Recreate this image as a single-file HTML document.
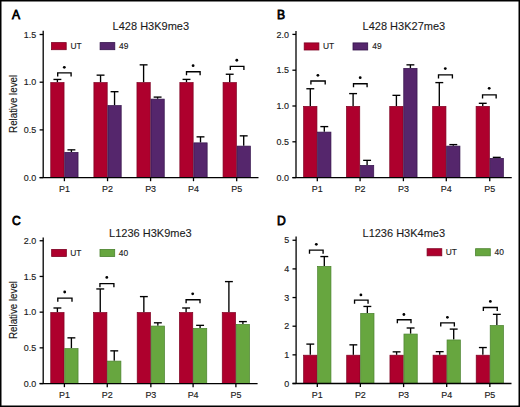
<!DOCTYPE html>
<html><head><meta charset="utf-8"><style>
html,body{margin:0;padding:0;background:#fff;}
body{width:520px;height:407px;overflow:hidden;}
svg{display:block;}
text{font-family:"Liberation Sans", sans-serif;fill:#1a1a1a;stroke:#1a1a1a;stroke-width:0.15px;}
.tk{font-size:9.6px;}
.lg{font-size:9.9px;}
.tit{font-size:11px;stroke-width:0.1px;}
.yl{font-size:10.5px;}
.let{font-size:13.2px;fill:#000;stroke:#000;stroke-width:0.8px;}
.ax{stroke:#000;stroke-width:1.3;fill:none;}
.eb{stroke:#000;stroke-width:1.35;fill:none;}
.br{stroke:#000;stroke-width:1.35;fill:none;}
</style></head><body>
<svg width="520" height="407" viewBox="0 0 520 407">
<rect x="0.75" y="0.75" width="518.5" height="405.5" fill="#fff" stroke="#000" stroke-width="1.5"/>
<text transform="translate(12 18.9) scale(0.92 1)" class="let">A</text>
<text x="150.85" y="30.1" class="tit" text-anchor="middle">L428 H3K9me3</text>
<line x1="57.40" y1="82.20" x2="57.40" y2="79.45" class="eb"/>
<line x1="53.45" y1="79.45" x2="61.35" y2="79.45" class="eb"/>
<rect x="50.75" y="82.55" width="13.30" height="95.05" fill="#ae002d" stroke="#7e0022" stroke-width="0.7"/>
<line x1="71.40" y1="152.00" x2="71.40" y2="149.85" class="eb"/>
<line x1="67.45" y1="149.85" x2="75.35" y2="149.85" class="eb"/>
<rect x="64.75" y="152.35" width="13.30" height="25.25" fill="#55266c" stroke="#33124a" stroke-width="0.7"/>
<line x1="64.40" y1="177.6" x2="64.40" y2="181.2" class="ax"/>
<text transform="translate(64.40 191.90) scale(0.93 1)" class="tk" text-anchor="middle">P1</text>
<line x1="100.55" y1="82.20" x2="100.55" y2="75.15" class="eb"/>
<line x1="96.60" y1="75.15" x2="104.50" y2="75.15" class="eb"/>
<rect x="93.90" y="82.55" width="13.30" height="95.05" fill="#ae002d" stroke="#7e0022" stroke-width="0.7"/>
<line x1="114.55" y1="105.20" x2="114.55" y2="91.70" class="eb"/>
<line x1="110.60" y1="91.70" x2="118.50" y2="91.70" class="eb"/>
<rect x="107.90" y="105.55" width="13.30" height="72.05" fill="#55266c" stroke="#33124a" stroke-width="0.7"/>
<line x1="107.55" y1="177.6" x2="107.55" y2="181.2" class="ax"/>
<text transform="translate(107.55 191.90) scale(0.93 1)" class="tk" text-anchor="middle">P2</text>
<line x1="143.60" y1="82.20" x2="143.60" y2="64.85" class="eb"/>
<line x1="139.65" y1="64.85" x2="147.55" y2="64.85" class="eb"/>
<rect x="136.95" y="82.55" width="13.30" height="95.05" fill="#ae002d" stroke="#7e0022" stroke-width="0.7"/>
<line x1="157.60" y1="98.75" x2="157.60" y2="97.10" class="eb"/>
<line x1="153.65" y1="97.10" x2="161.55" y2="97.10" class="eb"/>
<rect x="150.95" y="99.10" width="13.30" height="78.50" fill="#55266c" stroke="#33124a" stroke-width="0.7"/>
<line x1="150.60" y1="177.6" x2="150.60" y2="181.2" class="ax"/>
<text transform="translate(150.60 191.90) scale(0.93 1)" class="tk" text-anchor="middle">P3</text>
<line x1="186.50" y1="82.20" x2="186.50" y2="79.40" class="eb"/>
<line x1="182.55" y1="79.40" x2="190.45" y2="79.40" class="eb"/>
<rect x="179.85" y="82.55" width="13.30" height="95.05" fill="#ae002d" stroke="#7e0022" stroke-width="0.7"/>
<line x1="200.50" y1="142.50" x2="200.50" y2="136.85" class="eb"/>
<line x1="196.55" y1="136.85" x2="204.45" y2="136.85" class="eb"/>
<rect x="193.85" y="142.85" width="13.30" height="34.75" fill="#55266c" stroke="#33124a" stroke-width="0.7"/>
<line x1="193.50" y1="177.6" x2="193.50" y2="181.2" class="ax"/>
<text transform="translate(193.50 191.90) scale(0.93 1)" class="tk" text-anchor="middle">P4</text>
<line x1="229.70" y1="82.20" x2="229.70" y2="74.25" class="eb"/>
<line x1="225.75" y1="74.25" x2="233.65" y2="74.25" class="eb"/>
<rect x="223.05" y="82.55" width="13.30" height="95.05" fill="#ae002d" stroke="#7e0022" stroke-width="0.7"/>
<line x1="243.70" y1="145.75" x2="243.70" y2="135.85" class="eb"/>
<line x1="239.75" y1="135.85" x2="247.65" y2="135.85" class="eb"/>
<rect x="237.05" y="146.10" width="13.30" height="31.50" fill="#55266c" stroke="#33124a" stroke-width="0.7"/>
<line x1="236.70" y1="177.6" x2="236.70" y2="181.2" class="ax"/>
<text transform="translate(236.70 191.90) scale(0.93 1)" class="tk" text-anchor="middle">P5</text>
<path d="M57.70 76.50V72.90H71.10V76.50" class="br"/>
<circle cx="64.30" cy="67.30" r="1.4" fill="#000"/>
<path d="M186.50 75.35V71.75H200.10V75.35" class="br"/>
<circle cx="193.10" cy="65.70" r="1.4" fill="#000"/>
<path d="M230.30 70.00V66.40H243.90V70.00" class="br"/>
<circle cx="236.80" cy="60.25" r="1.4" fill="#000"/>
<line x1="43.2" y1="30.8" x2="43.2" y2="177.6" class="ax"/>
<line x1="39.60" y1="177.6" x2="258.5" y2="177.6" class="ax"/>
<line x1="39.60" y1="177.60" x2="43.2" y2="177.60" class="ax"/>
<text transform="translate(36.20 180.75) scale(0.93 1)" class="tk" text-anchor="end">0.0</text>
<line x1="39.60" y1="129.90" x2="43.2" y2="129.90" class="ax"/>
<text transform="translate(36.20 133.05) scale(0.93 1)" class="tk" text-anchor="end">0.5</text>
<line x1="39.60" y1="82.20" x2="43.2" y2="82.20" class="ax"/>
<text transform="translate(36.20 85.35) scale(0.93 1)" class="tk" text-anchor="end">1.0</text>
<line x1="39.60" y1="34.50" x2="43.2" y2="34.50" class="ax"/>
<text transform="translate(36.20 37.65) scale(0.93 1)" class="tk" text-anchor="end">1.5</text>
<rect x="51.50" y="42.60" width="14.7" height="7.1" fill="#ae002d" stroke="#7e0022" stroke-width="0.8"/>
<text transform="translate(70.50 48.90) scale(0.85 1)" class="lg">UT</text>
<rect x="100.10" y="42.60" width="14.7" height="7.1" fill="#55266c" stroke="#33124a" stroke-width="0.8"/>
<text transform="translate(119.00 48.90) scale(0.85 1)" class="lg">49</text>
<text transform="translate(17.1 103.9) rotate(-90) scale(0.93 1)" class="yl" text-anchor="middle">Relative level</text>
<text transform="translate(277 18.8) scale(0.92 1)" class="let">B</text>
<text x="403.88" y="30.1" class="tit" text-anchor="middle">L428 H3K27me3</text>
<line x1="310.30" y1="106.00" x2="310.30" y2="88.75" class="eb"/>
<line x1="306.35" y1="88.75" x2="314.25" y2="88.75" class="eb"/>
<rect x="303.65" y="106.35" width="13.30" height="71.25" fill="#ae002d" stroke="#7e0022" stroke-width="0.7"/>
<line x1="324.30" y1="131.75" x2="324.30" y2="126.60" class="eb"/>
<line x1="320.35" y1="126.60" x2="328.25" y2="126.60" class="eb"/>
<rect x="317.65" y="132.10" width="13.30" height="45.50" fill="#55266c" stroke="#33124a" stroke-width="0.7"/>
<line x1="317.30" y1="177.6" x2="317.30" y2="181.2" class="ax"/>
<text transform="translate(317.30 191.90) scale(0.93 1)" class="tk" text-anchor="middle">P1</text>
<line x1="353.10" y1="106.00" x2="353.10" y2="93.60" class="eb"/>
<line x1="349.15" y1="93.60" x2="357.05" y2="93.60" class="eb"/>
<rect x="346.45" y="106.35" width="13.30" height="71.25" fill="#ae002d" stroke="#7e0022" stroke-width="0.7"/>
<line x1="367.10" y1="165.00" x2="367.10" y2="160.35" class="eb"/>
<line x1="363.15" y1="160.35" x2="371.05" y2="160.35" class="eb"/>
<rect x="360.45" y="165.35" width="13.30" height="12.25" fill="#55266c" stroke="#33124a" stroke-width="0.7"/>
<line x1="360.10" y1="177.6" x2="360.10" y2="181.2" class="ax"/>
<text transform="translate(360.10 191.90) scale(0.93 1)" class="tk" text-anchor="middle">P2</text>
<line x1="396.40" y1="106.00" x2="396.40" y2="95.35" class="eb"/>
<line x1="392.45" y1="95.35" x2="400.35" y2="95.35" class="eb"/>
<rect x="389.75" y="106.35" width="13.30" height="71.25" fill="#ae002d" stroke="#7e0022" stroke-width="0.7"/>
<line x1="410.40" y1="68.00" x2="410.40" y2="64.85" class="eb"/>
<line x1="406.45" y1="64.85" x2="414.35" y2="64.85" class="eb"/>
<rect x="403.75" y="68.35" width="13.30" height="109.25" fill="#55266c" stroke="#33124a" stroke-width="0.7"/>
<line x1="403.40" y1="177.6" x2="403.40" y2="181.2" class="ax"/>
<text transform="translate(403.40 191.90) scale(0.93 1)" class="tk" text-anchor="middle">P3</text>
<line x1="439.30" y1="106.00" x2="439.30" y2="82.60" class="eb"/>
<line x1="435.35" y1="82.60" x2="443.25" y2="82.60" class="eb"/>
<rect x="432.65" y="106.35" width="13.30" height="71.25" fill="#ae002d" stroke="#7e0022" stroke-width="0.7"/>
<line x1="453.30" y1="145.75" x2="453.30" y2="144.60" class="eb"/>
<line x1="449.35" y1="144.60" x2="457.25" y2="144.60" class="eb"/>
<rect x="446.65" y="146.10" width="13.30" height="31.50" fill="#55266c" stroke="#33124a" stroke-width="0.7"/>
<line x1="446.30" y1="177.6" x2="446.30" y2="181.2" class="ax"/>
<text transform="translate(446.30 191.90) scale(0.93 1)" class="tk" text-anchor="middle">P4</text>
<line x1="482.75" y1="106.00" x2="482.75" y2="103.30" class="eb"/>
<line x1="478.80" y1="103.30" x2="486.70" y2="103.30" class="eb"/>
<rect x="476.10" y="106.35" width="13.30" height="71.25" fill="#ae002d" stroke="#7e0022" stroke-width="0.7"/>
<line x1="496.75" y1="158.00" x2="496.75" y2="157.35" class="eb"/>
<line x1="492.80" y1="157.35" x2="500.70" y2="157.35" class="eb"/>
<rect x="490.10" y="158.35" width="13.30" height="19.25" fill="#55266c" stroke="#33124a" stroke-width="0.7"/>
<line x1="489.75" y1="177.6" x2="489.75" y2="181.2" class="ax"/>
<text transform="translate(489.75 191.90) scale(0.93 1)" class="tk" text-anchor="middle">P5</text>
<path d="M310.90 84.60V81.00H325.20V84.60" class="br"/>
<circle cx="317.90" cy="75.30" r="1.4" fill="#000"/>
<path d="M353.50 87.35V83.75H367.10V87.35" class="br"/>
<circle cx="360.20" cy="77.70" r="1.4" fill="#000"/>
<path d="M438.50 78.40V74.80H452.40V78.40" class="br"/>
<circle cx="445.30" cy="68.60" r="1.4" fill="#000"/>
<path d="M482.55 98.40V94.80H496.15V98.40" class="br"/>
<circle cx="489.20" cy="88.30" r="1.4" fill="#000"/>
<line x1="296.0" y1="31.1" x2="296.0" y2="177.6" class="ax"/>
<line x1="292.40" y1="177.6" x2="511.75" y2="177.6" class="ax"/>
<line x1="292.40" y1="177.60" x2="296.0" y2="177.60" class="ax"/>
<text transform="translate(289.00 180.75) scale(0.93 1)" class="tk" text-anchor="end">0.0</text>
<line x1="292.40" y1="141.80" x2="296.0" y2="141.80" class="ax"/>
<text transform="translate(289.00 144.95) scale(0.93 1)" class="tk" text-anchor="end">0.5</text>
<line x1="292.40" y1="106.00" x2="296.0" y2="106.00" class="ax"/>
<text transform="translate(289.00 109.15) scale(0.93 1)" class="tk" text-anchor="end">1.0</text>
<line x1="292.40" y1="70.20" x2="296.0" y2="70.20" class="ax"/>
<text transform="translate(289.00 73.35) scale(0.93 1)" class="tk" text-anchor="end">1.5</text>
<line x1="292.40" y1="34.40" x2="296.0" y2="34.40" class="ax"/>
<text transform="translate(289.00 37.55) scale(0.93 1)" class="tk" text-anchor="end">2.0</text>
<rect x="304.20" y="42.90" width="14.7" height="7.1" fill="#ae002d" stroke="#7e0022" stroke-width="0.8"/>
<text transform="translate(323.00 49.20) scale(0.85 1)" class="lg">UT</text>
<rect x="353.00" y="42.90" width="14.7" height="7.1" fill="#55266c" stroke="#33124a" stroke-width="0.8"/>
<text transform="translate(372.30 49.20) scale(0.85 1)" class="lg">49</text>
<text transform="translate(12 224.9) scale(0.92 1)" class="let">C</text>
<text x="150.40" y="237.0" class="tit" text-anchor="middle">L1236 H3K9me3</text>
<line x1="57.40" y1="312.15" x2="57.40" y2="308.00" class="eb"/>
<line x1="53.45" y1="308.00" x2="61.35" y2="308.00" class="eb"/>
<rect x="50.75" y="312.50" width="13.30" height="71.05" fill="#ae002d" stroke="#7e0022" stroke-width="0.7"/>
<line x1="71.40" y1="348.25" x2="71.40" y2="337.85" class="eb"/>
<line x1="67.45" y1="337.85" x2="75.35" y2="337.85" class="eb"/>
<rect x="64.75" y="348.60" width="13.30" height="34.95" fill="#67a63f" stroke="#4a822e" stroke-width="0.7"/>
<line x1="64.40" y1="383.55" x2="64.40" y2="387.15000000000003" class="ax"/>
<text transform="translate(64.40 397.85) scale(0.93 1)" class="tk" text-anchor="middle">P1</text>
<line x1="100.25" y1="312.15" x2="100.25" y2="288.95" class="eb"/>
<line x1="96.30" y1="288.95" x2="104.20" y2="288.95" class="eb"/>
<rect x="93.60" y="312.50" width="13.30" height="71.05" fill="#ae002d" stroke="#7e0022" stroke-width="0.7"/>
<line x1="114.25" y1="360.75" x2="114.25" y2="350.85" class="eb"/>
<line x1="110.30" y1="350.85" x2="118.20" y2="350.85" class="eb"/>
<rect x="107.60" y="361.10" width="13.30" height="22.45" fill="#67a63f" stroke="#4a822e" stroke-width="0.7"/>
<line x1="107.25" y1="383.55" x2="107.25" y2="387.15000000000003" class="ax"/>
<text transform="translate(107.25 397.85) scale(0.93 1)" class="tk" text-anchor="middle">P2</text>
<line x1="143.85" y1="312.15" x2="143.85" y2="296.60" class="eb"/>
<line x1="139.90" y1="296.60" x2="147.80" y2="296.60" class="eb"/>
<rect x="137.20" y="312.50" width="13.30" height="71.05" fill="#ae002d" stroke="#7e0022" stroke-width="0.7"/>
<line x1="157.85" y1="325.70" x2="157.85" y2="322.80" class="eb"/>
<line x1="153.90" y1="322.80" x2="161.80" y2="322.80" class="eb"/>
<rect x="151.20" y="326.05" width="13.30" height="57.50" fill="#67a63f" stroke="#4a822e" stroke-width="0.7"/>
<line x1="150.85" y1="383.55" x2="150.85" y2="387.15000000000003" class="ax"/>
<text transform="translate(150.85 397.85) scale(0.93 1)" class="tk" text-anchor="middle">P3</text>
<line x1="186.10" y1="312.15" x2="186.10" y2="308.00" class="eb"/>
<line x1="182.15" y1="308.00" x2="190.05" y2="308.00" class="eb"/>
<rect x="179.45" y="312.50" width="13.30" height="71.05" fill="#ae002d" stroke="#7e0022" stroke-width="0.7"/>
<line x1="200.10" y1="328.00" x2="200.10" y2="325.35" class="eb"/>
<line x1="196.15" y1="325.35" x2="204.05" y2="325.35" class="eb"/>
<rect x="193.45" y="328.35" width="13.30" height="55.20" fill="#67a63f" stroke="#4a822e" stroke-width="0.7"/>
<line x1="193.10" y1="383.55" x2="193.10" y2="387.15000000000003" class="ax"/>
<text transform="translate(193.10 397.85) scale(0.93 1)" class="tk" text-anchor="middle">P4</text>
<line x1="228.90" y1="312.15" x2="228.90" y2="281.60" class="eb"/>
<line x1="224.95" y1="281.60" x2="232.85" y2="281.60" class="eb"/>
<rect x="222.25" y="312.50" width="13.30" height="71.05" fill="#ae002d" stroke="#7e0022" stroke-width="0.7"/>
<line x1="242.90" y1="324.00" x2="242.90" y2="321.60" class="eb"/>
<line x1="238.95" y1="321.60" x2="246.85" y2="321.60" class="eb"/>
<rect x="236.25" y="324.35" width="13.30" height="59.20" fill="#67a63f" stroke="#4a822e" stroke-width="0.7"/>
<line x1="235.90" y1="383.55" x2="235.90" y2="387.15000000000003" class="ax"/>
<text transform="translate(235.90 397.85) scale(0.93 1)" class="tk" text-anchor="middle">P5</text>
<path d="M57.80 301.70V298.10H72.00V301.70" class="br"/>
<circle cx="64.70" cy="292.00" r="1.4" fill="#000"/>
<path d="M99.95 287.25V283.65H113.90V287.25" class="br"/>
<circle cx="106.80" cy="277.40" r="1.4" fill="#000"/>
<path d="M186.10 303.35V299.75H200.00V303.35" class="br"/>
<circle cx="192.70" cy="293.85" r="1.4" fill="#000"/>
<line x1="43.2" y1="237.5" x2="43.2" y2="383.55" class="ax"/>
<line x1="39.60" y1="383.55" x2="257.6" y2="383.55" class="ax"/>
<line x1="39.60" y1="383.55" x2="43.2" y2="383.55" class="ax"/>
<text transform="translate(36.20 386.70) scale(0.93 1)" class="tk" text-anchor="end">0.0</text>
<line x1="39.60" y1="347.85" x2="43.2" y2="347.85" class="ax"/>
<text transform="translate(36.20 351.00) scale(0.93 1)" class="tk" text-anchor="end">0.5</text>
<line x1="39.60" y1="312.15" x2="43.2" y2="312.15" class="ax"/>
<text transform="translate(36.20 315.30) scale(0.93 1)" class="tk" text-anchor="end">1.0</text>
<line x1="39.60" y1="276.45" x2="43.2" y2="276.45" class="ax"/>
<text transform="translate(36.20 279.60) scale(0.93 1)" class="tk" text-anchor="end">1.5</text>
<line x1="39.60" y1="240.75" x2="43.2" y2="240.75" class="ax"/>
<text transform="translate(36.20 243.90) scale(0.93 1)" class="tk" text-anchor="end">2.0</text>
<rect x="51.65" y="249.40" width="14.7" height="7.1" fill="#ae002d" stroke="#7e0022" stroke-width="0.8"/>
<text transform="translate(70.30 255.70) scale(0.85 1)" class="lg">UT</text>
<rect x="100.00" y="249.40" width="14.7" height="7.1" fill="#67a63f" stroke="#4a822e" stroke-width="0.8"/>
<text transform="translate(118.80 255.70) scale(0.85 1)" class="lg">40</text>
<text transform="translate(17.1 310) rotate(-90) scale(0.93 1)" class="yl" text-anchor="middle">Relative level</text>
<text transform="translate(277 224.9) scale(0.92 1)" class="let">D</text>
<text x="403.80" y="236.8" class="tit" text-anchor="middle">L1236 H3K4me3</text>
<line x1="310.30" y1="354.85" x2="310.30" y2="344.10" class="eb"/>
<line x1="306.35" y1="344.10" x2="314.25" y2="344.10" class="eb"/>
<rect x="303.65" y="355.20" width="13.30" height="28.30" fill="#ae002d" stroke="#7e0022" stroke-width="0.7"/>
<line x1="324.30" y1="266.00" x2="324.30" y2="256.55" class="eb"/>
<line x1="320.35" y1="256.55" x2="328.25" y2="256.55" class="eb"/>
<rect x="317.65" y="266.35" width="13.30" height="117.15" fill="#67a63f" stroke="#4a822e" stroke-width="0.7"/>
<line x1="317.30" y1="383.5" x2="317.30" y2="387.1" class="ax"/>
<text transform="translate(317.30 397.80) scale(0.93 1)" class="tk" text-anchor="middle">P1</text>
<line x1="353.35" y1="354.85" x2="353.35" y2="344.85" class="eb"/>
<line x1="349.40" y1="344.85" x2="357.30" y2="344.85" class="eb"/>
<rect x="346.70" y="355.20" width="13.30" height="28.30" fill="#ae002d" stroke="#7e0022" stroke-width="0.7"/>
<line x1="367.35" y1="313.00" x2="367.35" y2="306.45" class="eb"/>
<line x1="363.40" y1="306.45" x2="371.30" y2="306.45" class="eb"/>
<rect x="360.70" y="313.35" width="13.30" height="70.15" fill="#67a63f" stroke="#4a822e" stroke-width="0.7"/>
<line x1="360.35" y1="383.5" x2="360.35" y2="387.1" class="ax"/>
<text transform="translate(360.35 397.80) scale(0.93 1)" class="tk" text-anchor="middle">P2</text>
<line x1="396.60" y1="354.85" x2="396.60" y2="351.85" class="eb"/>
<line x1="392.65" y1="351.85" x2="400.55" y2="351.85" class="eb"/>
<rect x="389.95" y="355.20" width="13.30" height="28.30" fill="#ae002d" stroke="#7e0022" stroke-width="0.7"/>
<line x1="410.60" y1="333.70" x2="410.60" y2="328.00" class="eb"/>
<line x1="406.65" y1="328.00" x2="414.55" y2="328.00" class="eb"/>
<rect x="403.95" y="334.05" width="13.30" height="49.45" fill="#67a63f" stroke="#4a822e" stroke-width="0.7"/>
<line x1="403.60" y1="383.5" x2="403.60" y2="387.1" class="ax"/>
<text transform="translate(403.60 397.80) scale(0.93 1)" class="tk" text-anchor="middle">P3</text>
<line x1="439.70" y1="354.85" x2="439.70" y2="351.65" class="eb"/>
<line x1="435.75" y1="351.65" x2="443.65" y2="351.65" class="eb"/>
<rect x="433.05" y="355.20" width="13.30" height="28.30" fill="#ae002d" stroke="#7e0022" stroke-width="0.7"/>
<line x1="453.70" y1="339.60" x2="453.70" y2="329.10" class="eb"/>
<line x1="449.75" y1="329.10" x2="457.65" y2="329.10" class="eb"/>
<rect x="447.05" y="339.95" width="13.30" height="43.55" fill="#67a63f" stroke="#4a822e" stroke-width="0.7"/>
<line x1="446.70" y1="383.5" x2="446.70" y2="387.1" class="ax"/>
<text transform="translate(446.70 397.80) scale(0.93 1)" class="tk" text-anchor="middle">P4</text>
<line x1="482.85" y1="354.85" x2="482.85" y2="347.55" class="eb"/>
<line x1="478.90" y1="347.55" x2="486.80" y2="347.55" class="eb"/>
<rect x="476.20" y="355.20" width="13.30" height="28.30" fill="#ae002d" stroke="#7e0022" stroke-width="0.7"/>
<line x1="496.85" y1="325.10" x2="496.85" y2="314.35" class="eb"/>
<line x1="492.90" y1="314.35" x2="500.80" y2="314.35" class="eb"/>
<rect x="490.20" y="325.45" width="13.30" height="58.05" fill="#67a63f" stroke="#4a822e" stroke-width="0.7"/>
<line x1="489.85" y1="383.5" x2="489.85" y2="387.1" class="ax"/>
<text transform="translate(489.85 397.80) scale(0.93 1)" class="tk" text-anchor="middle">P5</text>
<path d="M309.50 253.75V250.15H323.10V253.75" class="br"/>
<circle cx="316.30" cy="244.30" r="1.4" fill="#000"/>
<path d="M354.55 303.65V300.05H368.05V303.65" class="br"/>
<circle cx="360.90" cy="294.90" r="1.4" fill="#000"/>
<path d="M397.35 323.35V319.75H411.00V323.35" class="br"/>
<circle cx="403.90" cy="314.50" r="1.4" fill="#000"/>
<path d="M440.75 326.40V322.80H454.35V326.40" class="br"/>
<circle cx="447.40" cy="317.30" r="1.4" fill="#000"/>
<path d="M483.35 311.05V307.45H497.25V311.05" class="br"/>
<circle cx="490.35" cy="301.45" r="1.4" fill="#000"/>
<line x1="296.1" y1="236.5" x2="296.1" y2="383.5" class="ax"/>
<line x1="292.50" y1="383.5" x2="511.5" y2="383.5" class="ax"/>
<line x1="292.50" y1="383.50" x2="296.1" y2="383.50" class="ax"/>
<text transform="translate(289.10 386.65) scale(0.93 1)" class="tk" text-anchor="end">0</text>
<line x1="292.50" y1="354.85" x2="296.1" y2="354.85" class="ax"/>
<text transform="translate(289.10 358.00) scale(0.93 1)" class="tk" text-anchor="end">1</text>
<line x1="292.50" y1="326.20" x2="296.1" y2="326.20" class="ax"/>
<text transform="translate(289.10 329.35) scale(0.93 1)" class="tk" text-anchor="end">2</text>
<line x1="292.50" y1="297.55" x2="296.1" y2="297.55" class="ax"/>
<text transform="translate(289.10 300.70) scale(0.93 1)" class="tk" text-anchor="end">3</text>
<line x1="292.50" y1="268.90" x2="296.1" y2="268.90" class="ax"/>
<text transform="translate(289.10 272.05) scale(0.93 1)" class="tk" text-anchor="end">4</text>
<line x1="292.50" y1="240.25" x2="296.1" y2="240.25" class="ax"/>
<text transform="translate(289.10 243.40) scale(0.93 1)" class="tk" text-anchor="end">5</text>
<rect x="427.10" y="248.70" width="14.7" height="7.1" fill="#ae002d" stroke="#7e0022" stroke-width="0.8"/>
<text transform="translate(445.80 255.00) scale(0.85 1)" class="lg">UT</text>
<rect x="475.60" y="248.70" width="14.7" height="7.1" fill="#67a63f" stroke="#4a822e" stroke-width="0.8"/>
<text transform="translate(494.60 255.00) scale(0.85 1)" class="lg">40</text>
</svg>
</body></html>
